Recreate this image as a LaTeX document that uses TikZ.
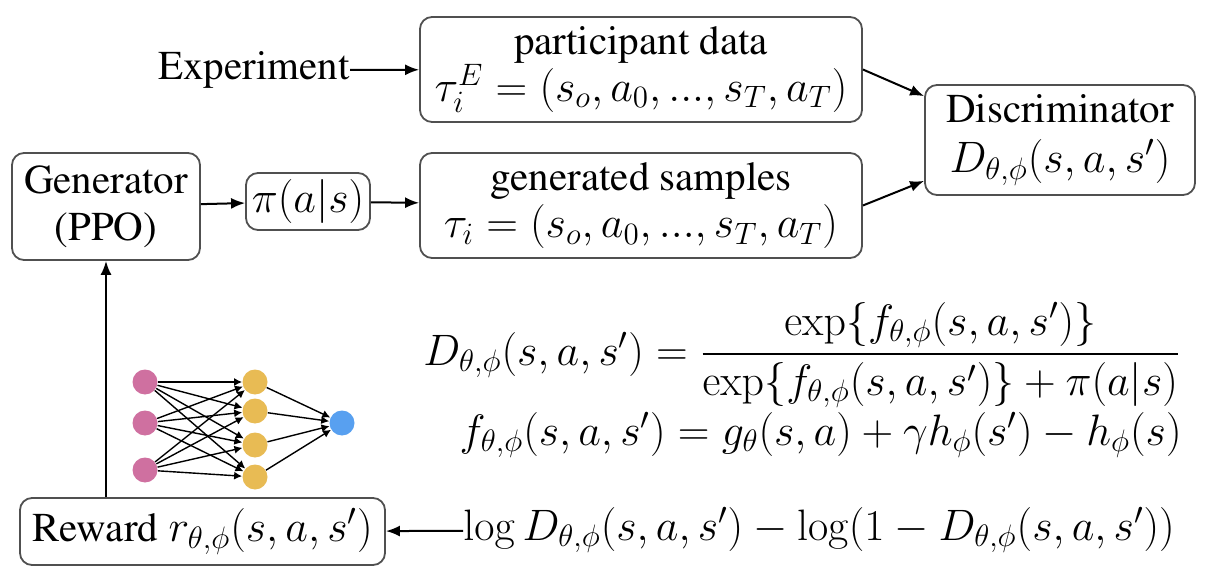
\documentclass[tikz,border=0pt]{standalone}
\usepackage{fix-cm}
\usepackage[T1]{fontenc}
\usepackage{times}
\usepackage{amsmath, amssymb}
\DeclareMathSizes{20.5}{22}{15.5}{11}
\usepackage{tikz}
\usetikzlibrary{arrows.meta, positioning, calc}
\definecolor{BoxGray}{RGB}{80,80,80}
\definecolor{NeuronPink}{RGB}{207,112,160}
\definecolor{NeuronGold}{RGB}{232,187,84}
\definecolor{NeuronBlue}{RGB}{88,160,240}

\begin{document}
\begin{tikzpicture}[x=0.5pt, y=-0.5pt, font=\fontsize{20.5}{23.5}\selectfont,
	blk/.style={draw=BoxGray, line width=0.9pt, rounded corners=6pt, align=center, inner sep=2pt},
	lbl/.style={inner sep=0pt},
	flow/.style={-{Latex[length=7pt, width=5.5pt]}, line width=1pt, black},
	nn/.style={circle, minimum size=12.5pt, inner sep=0pt},
	syn/.style={-{Latex[length=4pt, width=4pt]}, line width=0.7pt, black}]
	\useasboundingbox (0,0) rectangle (1210,588);
	% upper row
	\node[lbl] (exper) at (254,70) {Experiment};
	\node[blk, minimum width=221pt, minimum height=52.5pt] (partdata) at (641,69.5)
		{participant data\\ $\tau_i^E=(s_o,a_0,...,s_T,a_T)$};
	\node[blk, minimum width=221pt, minimum height=52.5pt] (gensamp) at (641,205.5)
		{generated samples\\ $\tau_i=(s_o,a_0,...,s_T,a_T)$};
	\node[blk, minimum width=135pt, minimum height=55pt] (disc) at (1060,140)
		{Discriminator\\[1.5pt] $D_{\theta,\phi}(s,a,s')$};
	\node[blk, minimum width=94pt, minimum height=53.5pt] (gen) at (106,206.5)
		{Generator\\ (PPO)};
	\node[blk, minimum width=62pt, minimum height=28.5pt] (policy) at (308,201.5) {$\pi(a|s)$};
	\draw[flow] (exper) -- (partdata);
	\draw[flow] (gen) -- (policy);
	\draw[flow] (policy) -- (gensamp);
	\draw[flow] (partdata.east) -- ([yshift=-6pt]disc.north west);
	\draw[flow] (gensamp.east) -- ([yshift=7.5pt]disc.south west);
	% equations
	\node[lbl, anchor=west] (deq) at (423,355)
		{$D_{\theta,\phi}(s,a,s')=\dfrac{\exp\{f_{\theta,\phi}(s,a,s')\}}{\exp\{f_{\theta,\phi}(s,a,s')\}+\pi(a|s)}$};
	\node[lbl, anchor=east] (feq) at (1182,435)
		{$f_{\theta,\phi}(s,a,s')=g_\theta(s,a)+\gamma h_\phi(s')-h_\phi(s)$};
	% reward
	\node[blk, minimum width=182.5pt, minimum height=33.5pt] (reward) at (202.5,531.5)
		{Reward $r_{\theta,\phi}(s,a,s')$};
	\node[lbl, anchor=west] (logd) at (463,530)
		{$\log D_{\theta,\phi}(s,a,s')-\log(1-D_{\theta,\phi}(s,a,s'))$};
	\draw[flow] (logd) -- (reward);
	\draw[flow] (gen.south |- reward.north) -- (gen.south);
	% small network
	\foreach \i/\y in {1/382,2/423,3/470}
		\node[nn, fill=NeuronPink] (p\i) at (145,\y) {};
	\foreach \j/\y in {1/382,2/411,3/445,4/477}
		\node[nn, fill=NeuronGold] (h\j) at (255,\y) {};
	\node[nn, fill=NeuronBlue] (out) at (342,423) {};
	\foreach \i in {1,2,3}
		\foreach \j in {1,...,4}
			\draw[syn] (p\i) -- (h\j);
	\foreach \j in {1,...,4}
		\draw[syn] (h\j) -- (out);
\end{tikzpicture}
\end{document}
